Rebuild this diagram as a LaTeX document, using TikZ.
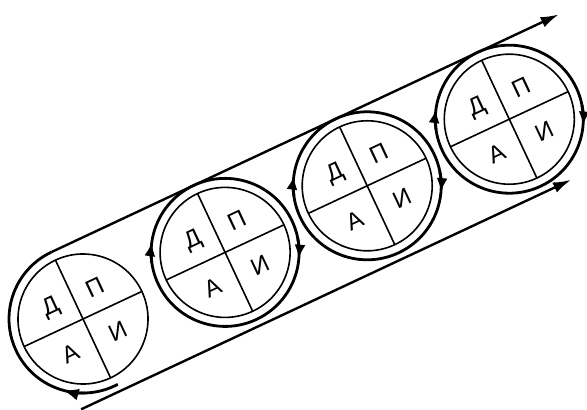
\documentclass[tikz,border=0pt]{standalone}
\usepackage{fontspec}
\setmainfont{Liberation Sans}
\usetikzlibrary{arrows.meta}
\begin{document}
\begin{tikzpicture}[x=1pt,y=1pt,
  ring/.style={line width=2.8pt},
  innerc/.style={line width=1.6pt},
  bandline/.style={line width=2.4pt},
  ringtip/.style={line width=2.8pt,-{Latex[length=14pt,width=11pt]}},
  bigtip/.style={line width=2.8pt,-{Latex[length=16pt,width=12pt]}},
  linetip/.style={-{Latex[length=18pt,width=11pt]}},
  lett/.style={font=\fontsize{24}{24}\selectfont, rotate=25.1, inner sep=0pt}]
\useasboundingbox (0,0) rectangle (587,410);
% circles
\foreach \i in {0,1,2,3}{
  \begin{scope}[shift={(83+142.1*\i,91+66.6*\i)},rotate=25.1]
    \coordinate (c\i) at (0,0);
    \draw[innerc] (c\i) circle[radius=65];
    \coordinate (w\i) at (180:65);
    \coordinate (e\i) at (0:65);
    \coordinate (n\i) at (90:65);
    \coordinate (s\i) at (-90:65);
    \draw[innerc] (w\i) -- (e\i);
    \draw[innerc] (n\i) -- (s\i);
    \node[lett] (D\i) at (135:34) {Д};
    \node[lett] (P\i) at (45:34) {П};
    \node[lett] (A\i) at (225:37) {А};
    \node[lett] (I\i) at (-45:37) {И};
  \end{scope}
}
% outer rings of circles 2-4
\foreach \i in {1,2,3}{
  \begin{scope}[shift={(83+142.1*\i,91+66.6*\i)},rotate=25.1]
    \draw[ring] (0,0) circle[radius=74];
    \draw[ringtip] (163:74) arc[start angle=163,end angle=147,radius=74];
    \draw[ringtip] (-14:74) arc[start angle=-14,end angle=-30,radius=74];
  \end{scope}
}
% band
\begin{scope}[shift={(83,91)},rotate=25.1]
  \coordinate (bs) at (-87:74);
  \coordinate (ut) at (90:74);
  \coordinate (ue) at (560,74);
  \coordinate (ls) at (-40,-81);
  \coordinate (le) at (501,-81);
  \draw[ring] (bs) arc[start angle=-87,end angle=-270,radius=74];
  \draw[bandline,linetip] (ut) -- (ue);
  \draw[bandline,linetip] (ls) -- (le);
  \draw[bigtip] (-113:74) arc[start angle=-113,end angle=-131,radius=74];
\end{scope}
\end{tikzpicture}
\end{document}
